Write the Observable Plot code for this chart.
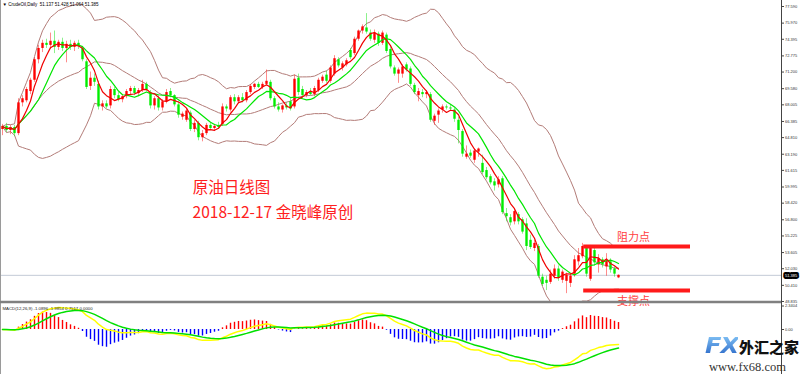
<!DOCTYPE html>
<html><head><meta charset="utf-8">
<script src="https://cdn.jsdelivr.net/npm/d3@7"></script>
<script src="https://cdn.jsdelivr.net/npm/@observablehq/plot@0.6"></script>
<style>
body{margin:0;background:#fff;}
#wrap{position:relative;width:800px;height:374px;overflow:hidden;background:#fff;}
#main{position:absolute;left:0;top:0;z-index:2;}
#macd{position:absolute;left:0;top:303px;z-index:1;}
.wm{position:absolute;z-index:3;white-space:nowrap;}
#fx{left:705px;top:336px;height:20px;font:italic bold 22px/20px "DejaVu Sans",sans-serif;letter-spacing:-1px;
  background:linear-gradient(#7fc0f4,#2a68c8);-webkit-background-clip:text;background-clip:text;color:transparent;transform:scaleX(1.1);transform-origin:left;}
#cn{left:739px;top:337px;font:900 15px/20px "Noto Sans CJK SC",sans-serif;color:#111;}
#url{left:709px;top:361px;font:12.5px/12px "Liberation Serif",serif;color:#333;}
</style></head>
<body>
<div id="wrap"><div id="macd"></div><div id="main"></div>
<div class="wm" id="fx">FX</div><div class="wm" id="cn">外汇之家</div><div class="wm" id="url">www.fx68.com</div>
</div>
<script>
// Daily candles (CrudeOil), one per trading bar
const open  = [65.6,65.9,65.5,65.8,65.2,68.2,68.4,69.3,70.4,72.4,73.5,74.0,73.8,74.2,73.6,74.1,73.5,73.9,73.6,74.0,
73.5,72.2,69.8,70.6,70.0,67.8,68.1,67.9,69.5,68.9,68.5,68.8,69.3,69.6,69.1,69.4,70.0,69.2,67.9,68.6,
67.7,68.3,69.3,68.9,68.0,66.8,66.5,67.2,65.6,66.2,64.8,65.2,66.0,65.7,65.9,66.1,67.8,67.5,68.7,68.3,
68.7,68.4,69.2,69.7,70.0,69.7,70.0,70.2,68.6,67.8,67.5,67.9,68.3,67.8,70.6,69.5,68.9,69.3,69.0,69.4,
70.3,70.9,70.3,71.0,72.4,71.6,71.9,73.3,73.0,74.4,75.2,75.5,75.0,74.3,74.9,74.0,74.8,73.4,71.6,71.0,
71.0,71.9,71.5,69.9,68.9,69.2,69.0,69.0,66.4,67.0,67.5,67.8,67.7,67.5,66.5,65.4,62.9,63.3,62.6,63.4,
62.3,61.6,61.0,60.5,60.2,60.8,57.4,57.0,56.6,57.3,56.8,56.4,54.8,54.0,54.2,51.2,50.9,50.7,51.3,52.0,
50.9,50.8,50.6,51.5,52.7,53.2,54.1,51.0,53.8,52.4,52.9,52.2,52.7,52.0,51.137];
const high  = [66.1,66.2,66.0,66.0,68.6,68.9,69.7,70.6,72.6,73.8,74.3,74.4,75.0,75.2,74.3,74.5,74.2,74.3,74.2,74.3,
73.7,72.4,71.2,71.0,70.3,68.4,68.4,69.8,69.7,69.2,69.0,69.5,69.8,69.8,69.6,70.4,70.2,69.4,68.8,68.9,
68.5,69.5,69.6,69.0,68.3,67.3,67.6,67.4,66.5,66.4,65.5,66.2,66.2,66.1,66.3,68.1,68.0,68.9,69.0,68.9,
69.1,69.4,70.0,70.1,70.2,70.2,71.4,70.4,68.8,68.2,68.0,68.2,68.6,70.9,71.0,69.8,69.4,69.6,69.8,70.6,
70.9,71.3,71.8,72.8,72.6,72.2,72.5,73.5,74.6,75.3,75.8,76.9,75.3,75.3,75.1,75.2,75.0,73.7,71.8,71.6,
71.9,72.1,71.7,70.1,69.6,69.5,69.4,69.2,67.1,67.6,68.0,68.0,68.0,67.7,66.8,65.6,64.0,63.6,63.7,63.8,
63.1,61.9,61.2,60.8,61.0,61.0,57.9,57.3,57.8,57.5,57.0,56.9,55.3,54.8,54.4,51.5,51.3,51.9,52.4,52.3,
51.9,51.6,51.5,53.3,54.0,54.5,54.3,54.3,54.1,53.4,53.1,53.5,53.0,52.2,51.428];
const low   = [65.0,65.3,65.1,64.9,65.0,67.8,68.2,69.0,70.2,72.0,73.1,73.5,73.4,73.0,73.3,73.2,72.1,73.3,73.2,73.4,
72.2,69.5,69.4,69.8,67.5,67.4,67.6,67.6,68.6,68.3,68.2,68.6,68.9,68.9,68.8,69.2,69.3,67.6,67.5,67.4,
67.4,68.1,68.7,67.8,66.7,66.5,66.3,65.4,65.3,64.5,64.4,65.0,65.5,65.4,65.6,65.9,67.3,67.3,68.0,68.1,
68.2,68.2,69.0,69.5,69.6,69.5,69.8,68.4,67.6,67.3,67.2,67.5,67.4,67.6,68.9,68.6,68.7,68.9,68.8,69.2,
70.1,70.1,70.1,70.8,71.6,71.3,71.7,72.4,72.8,74.2,74.9,74.9,74.2,74.0,73.7,73.8,73.0,71.5,70.8,70.1,
70.6,71.2,69.8,69.0,68.3,68.7,68.6,66.3,66.0,66.2,67.2,67.5,67.4,66.3,64.2,62.9,62.7,62.8,62.3,62.9,
61.2,60.7,60.2,59.6,59.9,57.3,56.6,56.2,56.3,56.3,55.4,53.8,53.9,53.7,51.1,50.3,49.9,50.5,51.0,50.8,
50.6,49.6,50.2,51.2,52.3,53.0,51.2,50.8,52.3,51.6,52.1,51.3,51.6,51.2,51.064];
const close = [65.9,65.5,65.8,65.2,68.2,68.6,69.5,70.4,72.4,73.5,74.0,73.8,74.2,73.6,74.1,73.5,73.9,73.6,74.0,73.7,
72.4,69.7,70.6,70.2,67.8,68.1,67.8,69.5,68.9,68.5,68.8,69.3,69.6,69.1,69.4,70.0,69.5,67.9,68.6,67.7,
68.3,69.2,68.9,68.0,67.0,67.1,67.4,65.6,66.2,64.8,65.2,66.0,65.7,65.9,65.8,67.8,67.6,68.7,68.3,68.7,
68.4,69.2,69.8,70.0,69.7,70.0,70.3,68.6,67.8,67.5,67.9,67.7,67.6,70.5,69.2,68.9,69.2,69.0,69.6,70.4,
70.7,70.3,71.6,72.5,71.8,72.0,72.3,72.6,74.4,75.2,75.6,75.1,74.4,75.0,74.0,75.0,73.2,71.7,71.0,71.4,
71.7,71.4,70.0,69.2,69.3,69.0,69.2,66.5,66.9,67.4,67.8,67.7,67.6,66.6,65.5,63.2,63.2,63.0,63.5,63.7,
61.4,60.9,60.4,60.1,60.7,57.5,57.1,56.5,57.6,56.6,55.6,54.2,54.1,54.5,51.3,50.5,50.6,51.5,52.0,51.1,
51.7,51.4,51.3,52.9,53.3,54.2,51.5,54.1,52.6,53.0,52.4,52.8,51.9,51.5,51.385];

const priceTicks = [77.590,75.970,74.395,72.775,71.200,69.580,68.005,66.385,64.810,63.190,61.615,59.995,58.420,56.800,55.225,53.605,52.030,50.410,48.835];
const macdTicks = [2.3404, 0];
const resistance = 54.2;
const support = 49.9;
const titleText = "▼ CrudeOil,Daily  51.137 51.428 51.064 51.385";
const macdText = "MACD(12,26,9) -1.0896 -1.9854 0.7517 0.0000";

// indicators derived from the closes
const n = close.length;
const win = (k, i) => close.slice(Math.max(0, i - k + 1), i + 1);
const sma = k => close.map((_, i) => d3.mean(win(k, i)));
const bbSd = i => { const w = win(20, i), m = d3.mean(w); return Math.sqrt(d3.mean(w, v => (v - m) ** 2)); };
const ema = (arr, k) => { const a = 2 / (k + 1); let e = arr[0]; return arr.map((v, i) => i ? (e = a * v + (1 - a) * e) : e); };
const ma5 = sma(5), ma10 = sma(10), mid = sma(20);
const e12 = ema(close, 12), e26 = ema(close, 26);
const dif = e12.map((v, i) => v - e26[i]);
const dea = ema(dif, 9);

const rows = close.map((c, i) => ({
  i, open: open[i], high: high[i], low: low[i], close: c,
  ma5: ma5[i], ma10: ma10[i], mid: mid[i],
  up: mid[i] + 2 * bbSd(i), dn: mid[i] - 2 * bbSd(i),
  dif: dif[i], dea: dea[i], hist: 2 * (dif[i] - dea[i])
}));
const bull = rows.filter(d => d.close >= d.open);
const bear = rows.filter(d => d.close < d.open);
const last = close[n - 1];

const X = {domain: [-0.5, 194.75], axis: null};
const fontSmall = "'Liberation Sans', Arial, sans-serif";
const fontCJK = "'Noto Sans CJK SC', sans-serif";
const bbColor = "#b37c78";

const main = Plot.plot({
  width: 800, height: 303, margin: 0, marginRight: 19,
  x: X, y: {domain: [48.64, 78.175], axis: null},
  style: {overflow: "visible", background: "transparent", fontFamily: fontSmall},
  marks: [
    Plot.ruleY([last], {stroke: "#c3cbd6", strokeWidth: 1}),
    Plot.line(rows, {x: "i", y: "up", stroke: bbColor, strokeWidth: 1, clip: true}),
    Plot.line(rows, {x: "i", y: "mid", stroke: bbColor, strokeWidth: 1, clip: true}),
    Plot.line(rows, {x: "i", y: "dn", stroke: bbColor, strokeWidth: 1, clip: true}),
    Plot.ruleX(bull, {x: "i", y1: "low", y2: "high", stroke: "#ff0000", strokeOpacity: 0.45, strokeWidth: 1}),
    Plot.ruleX(bear, {x: "i", y1: "low", y2: "high", stroke: "#00e000", strokeOpacity: 0.45, strokeWidth: 1}),
    Plot.ruleX(bull, {x: "i", y1: "open", y2: "close", stroke: "#ff0000", strokeWidth: 2.4}),
    Plot.ruleX(bear, {x: "i", y1: "open", y2: "close", stroke: "#00ee00", strokeWidth: 2.4}),
    Plot.line(rows, {x: "i", y: "ma10", stroke: "#00e600", strokeWidth: 1.2}),
    Plot.line(rows, {x: "i", y: "ma5", stroke: "#f00000", strokeWidth: 1.2}),
    Plot.ruleY([resistance], {x1: 145.3, x2: 172, stroke: "#ff1a1a", strokeWidth: 4}),
    Plot.ruleY([support], {x1: 145.3, x2: 172, stroke: "#ff1a1a", strokeWidth: 4}),
    Plot.text(["阻力点"], {x: 157.75, y: 55.07, fontSize: 11, fill: "#ff4040", fontFamily: fontCJK}),
    Plot.text(["支撑点"], {x: 157.75, y: 48.79, fontSize: 11, fill: "#ff4040", fontFamily: fontCJK}),
    Plot.text(["原油日线图"], {x: 57.25, y: 59.9, fontSize: 15.5, fill: "#ff2020", fontFamily: fontCJK}),
    Plot.text(["2018-12-17 金晓峰原创"], {x: 67.6, y: 57.46, fontSize: 15.5, fill: "#ff2020", fontFamily: fontCJK}),
    Plot.text([titleText], {frameAnchor: "top-left", dx: 2, dy: 2, fontSize: 4.5, fill: "#000", textAnchor: "start", lineAnchor: "top"}),
    Plot.ruleX([-0.5], {stroke: "#9a9a9a", strokeWidth: 1}),
    Plot.ruleX([194.75], {stroke: "#444", strokeWidth: 1}),
    Plot.axisY(priceTicks, {anchor: "right", tickFormat: d => d.toFixed(3), tickSize: 2, tickPadding: 1.5, fontSize: 4, fill: "#333", stroke: "#444"}),
    Plot.text([last], {x: 194.75, y: d => d, dx: 3.5, text: d => d.toFixed(3), textAnchor: "start", fontSize: 4, fill: "#fff", stroke: "#000", strokeWidth: 4}),
    Plot.ruleY([48.64], {stroke: "#808080", strokeWidth: 2.5, dy: -1.5})
  ]
});
document.getElementById("main").append(main);

const macd = Plot.plot({
  width: 800, height: 71, margin: 0, marginRight: 19,
  x: X, y: {domain: [-4.48, 2.59], axis: null},
  style: {overflow: "visible", background: "transparent", fontFamily: fontSmall},
  marks: [
    Plot.ruleX(rows.filter(d => d.hist >= 0), {x: "i", y1: 0, y2: "hist", stroke: "#ff0000", strokeWidth: 1.4, clip: true}),
    Plot.ruleX(rows.filter(d => d.hist < 0), {x: "i", y1: 0, y2: "hist", stroke: "#0000ff", strokeWidth: 1.4, clip: true}),
    Plot.line(rows, {x: "i", y: "dif", stroke: "#ffff00", strokeWidth: 1.5, clip: true}),
    Plot.line(rows, {x: "i", y: "dea", stroke: "#00e000", strokeWidth: 1.5, clip: true}),
    Plot.text([macdText], {frameAnchor: "top-left", dx: 2, dy: 3, fontSize: 4.3, fill: "#222", textAnchor: "start", lineAnchor: "top"}),
    Plot.ruleX([-0.5], {stroke: "#9a9a9a", strokeWidth: 1}),
    Plot.ruleX([194.75], {stroke: "#444", strokeWidth: 1}),
    Plot.axisY(macdTicks, {anchor: "right", tickFormat: d => d === 0 ? "0.00" : d.toFixed(4), tickSize: 2, tickPadding: 1.5, fontSize: 4, fill: "#333", stroke: "#444"})
  ]
});
document.getElementById("macd").append(macd);
</script>
</body></html>
